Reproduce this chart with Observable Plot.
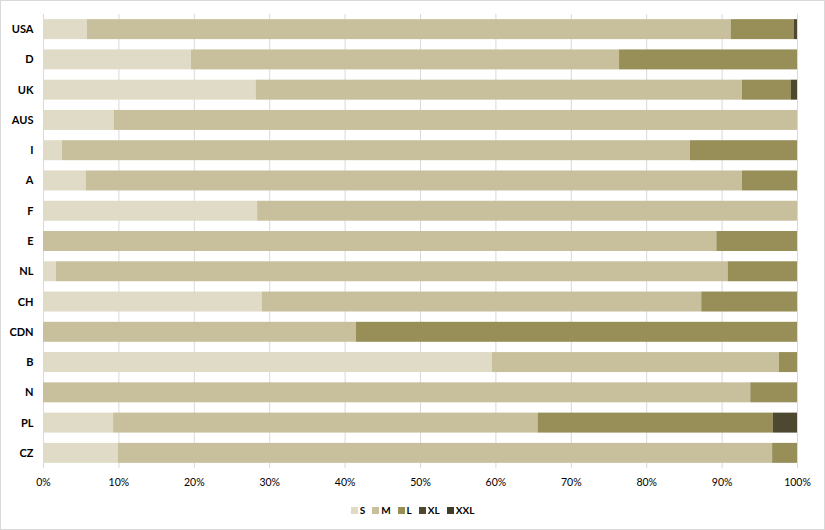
<!DOCTYPE html>
<html>
<head>
<meta charset="utf-8">
<script src="https://cdn.jsdelivr.net/npm/d3@7"></script>
<script src="https://cdn.jsdelivr.net/npm/@observablehq/plot@0.6"></script>
<style>
  html, body { margin: 0; padding: 0; background: #fff; }
  #frame { width: 825px; height: 530px; box-sizing: border-box; border: 1px solid #d9d9d9; position: relative; overflow: hidden; font-family: Lato, "Open Sans", sans-serif; }
  #chart svg { display: block; }
  #legend { position: absolute; left: 0; right: 0; top: 503px; display: flex; justify-content: center; gap: 7px; font-size: 10px; font-weight: bold; color: #000; }
  #legend .item { display: flex; align-items: center; gap: 2px; }
  #legend .sw { width: 7px; height: 7px; display: inline-block; }
</style>
</head>
<body>
<div id="frame">
  <div id="chart"></div>
  <div id="legend"></div>
</div>
<script>
const countries = ["USA","D","UK","AUS","I","A","F","E","NL","CH","CDN","B","N","PL","CZ"];
const sizes = ["S","M","L","XL","XXL"];
const colors = ["#dfdbc6","#c8c09c","#978e58","#4d4931","#3e3c2a"];
const S   = [5.8, 19.6, 28.2, 9.4, 2.5, 5.7, 28.4, 0, 1.7, 29.0, 0, 59.5, 0, 9.3, 9.9];
const M   = [85.4, 56.8, 64.5, 90.6, 83.3, 87.0, 71.6, 89.3, 89.1, 58.3, 41.5, 38.1, 93.8, 56.3, 86.8];
const L   = [8.4, 23.6, 6.5, 0, 14.2, 7.3, 0, 10.7, 9.2, 12.7, 58.5, 2.4, 6.2, 31.2, 3.3];
const XL  = [0.4, 0, 0.8, 0, 0, 0, 0, 0, 0, 0, 0, 0, 0, 3.2, 0];
const XXL = [0, 0, 0, 0, 0, 0, 0, 0, 0, 0, 0, 0, 0, 0, 0];
const xTicks = [0,0.1,0.2,0.3,0.4,0.5,0.6,0.7,0.8,0.9,1];

const seriesValues = {S, M, L, XL, XXL};
const rows = [];
sizes.forEach(s => countries.forEach((c, i) => rows.push({country: c, size: s, value: seriesValues[s][i]})));

const chart = Plot.plot({
  width: 823,
  height: 494,
  marginTop: 13,
  marginBottom: 27,
  marginLeft: 42,
  marginRight: 27,
  style: {fontFamily: "Lato, 'Open Sans', sans-serif", fontSize: "11px", color: "#000"},
  x: {domain: [0, 1], ticks: xTicks, tickFormat: d => Math.round(d * 100) + "%"},
  y: {domain: countries, paddingInner: 0.34, paddingOuter: 0.17, round: false},
  color: {domain: sizes, range: colors},
  marks: [
    Plot.gridX(xTicks, {stroke: "#d9d9d9", strokeOpacity: 1}),
    Plot.barX(rows, Plot.stackX({x: "value", y: "country", fill: "size", offset: "normalize", order: sizes})),
    Plot.axisX({ticks: xTicks, tickSize: 0, tickPadding: 10, tickFormat: d => Math.round(d * 100) + "%", label: null, fontSize: 10.5}),
    Plot.axisY({tickSize: 0, tickPadding: 10, label: null, fontWeight: "bold", fontSize: 11})
  ]
});
document.getElementById("chart").appendChild(chart);

const legend = document.getElementById("legend");
sizes.forEach((s, i) => {
  const item = document.createElement("span");
  item.className = "item";
  const sw = document.createElement("span");
  sw.className = "sw";
  sw.style.background = colors[i];
  item.appendChild(sw);
  item.appendChild(document.createTextNode(s));
  legend.appendChild(item);
});
</script>
</body>
</html>
